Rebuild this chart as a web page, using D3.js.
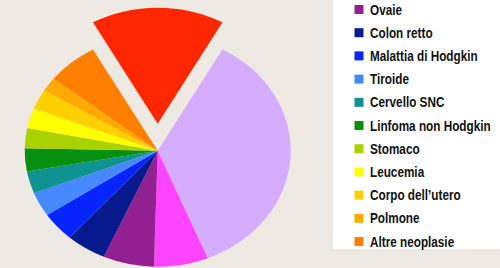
<!DOCTYPE html>
<html>
<head>
<meta charset="utf-8">
<script src="https://cdnjs.cloudflare.com/ajax/libs/d3/7.8.5/d3.min.js"></script>
<style>
  body { margin: 0; background: #eee9e2; }
  svg { display: block; }
</style>
</head>
<body>
<script>

// slices, clockwise starting from the exploded one at the top
var categories = ["Mammella", "Melanoma", "Cervice uterina", "Ovaie", "Colon retto",
    "Malattia di Hodgkin", "Tiroide", "Cervello SNC", "Linfoma non Hodgkin",
    "Stomaco", "Leucemia", "Corpo dell\u2019utero", "Polmone", "Altre neoplasie"];
var values = [16.2, 35.8, 6.6, 6.2, 4.9, 4.1, 3.4, 3.1, 3.2, 2.8, 2.8, 2.8, 2.0, 6.2];
var colors = ["#ff2600", "#d4adfe", "#ff44ff", "#932090", "#061a8e", "#0726fe",
    "#4689ff", "#0f9292", "#079010", "#aad200", "#ffff00", "#ffd000", "#ffaa00", "#ff7f00"];
var exploded = ["Mammella"];

var width = 500;
var height = 268;

var data = categories.map((c, i) => ({name: c, value: values[i], color: colors[i]}));

var svg = d3.select("body")
.append("svg")
.attr("width", width)
.attr("height", height);

svg.append("rect")
.attr("width", width)
.attr("height", height)
.attr("fill", "#eee9e2");

//Pie, flattened a bit vertically
var radius = 133;
var tilt = 0.872;
var half = values[0] / d3.sum(values) * Math.PI;

var pie = d3.pie()
.sort(null)
.value(d => d.value)
.startAngle(-half)
.endAngle(2 * Math.PI - half);

var arc = d3.arc()
.innerRadius(0)
.outerRadius(radius);

var pieGroup = svg.append("g")
.attr("transform", `translate(157.7,150.7) scale(1,${tilt})`);

pieGroup.selectAll("path")
.data(pie(data))
.enter()
.append("path")
.attr("d", arc)
.attr("fill", d => d.data.color)
.attr("transform", d => {
    if (exploded.indexOf(d.data.name) < 0) return null;
    var mid = (d.startAngle + d.endAngle) / 2;
    var off = 31;
    return `translate(${Math.sin(mid) * off},${-Math.cos(mid) * off})`;
});

//Legend (top of it runs off the picture)
var rowH = 23.2;
var firstShown = 3;
var legendTop = 9.5 - firstShown * rowH;

svg.append("rect")
.attr("x", 332)
.attr("y", -10)
.attr("width", 180)
.attr("height", 260)
.attr("fill", "#ffffff")
.attr("stroke", "#dedad4")
.attr("stroke-width", 1);

var items = svg.selectAll(".legend")
.data(data.filter((d, i) => i >= firstShown))
.enter()
.append("g")
.attr("class", "legend")
.attr("transform", d => `translate(0,${legendTop + categories.indexOf(d.name) * rowH})`);

items.append("rect")
.attr("x", 354.5)
.attr("y", -4.5)
.attr("width", 9)
.attr("height", 9)
.attr("fill", d => d.color);

// narrow bold face: squeeze the text horizontally
items.append("text")
.attr("transform", "translate(370,5) scale(0.84,1)")
.attr("font-family", "'Liberation Sans', Arial, sans-serif")
.attr("font-weight", "bold")
.attr("font-size", 14)
.attr("fill", "#111")
.text(d => d.name);

</script>
</body>
</html>
